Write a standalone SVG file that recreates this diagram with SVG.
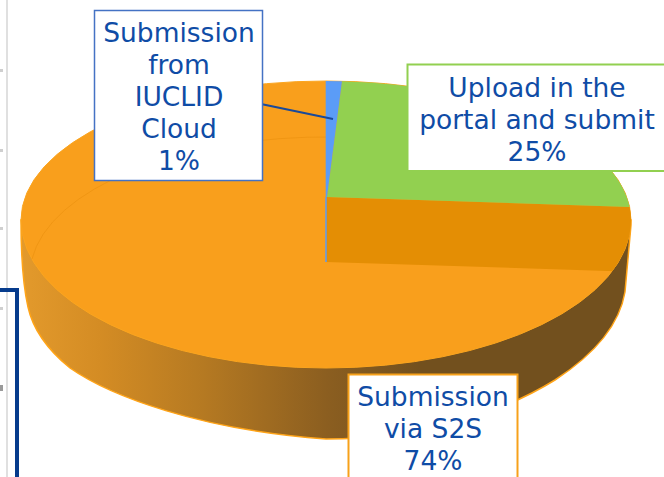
<svg xmlns="http://www.w3.org/2000/svg" width="664" height="477" viewBox="0 0 664 477">
  <defs>
    <linearGradient id="wallGrad" gradientUnits="userSpaceOnUse" x1="20" y1="0" x2="420" y2="0">
      <stop offset="0" stop-color="#E39A2C"/>
      <stop offset="0.2" stop-color="#D48C24"/>
      <stop offset="0.45" stop-color="#B67A22"/>
      <stop offset="0.77" stop-color="#8B5E20"/>
      <stop offset="1" stop-color="#72501E"/>
    </linearGradient>
    <clipPath id="topClip">
      <path d="M21,220 A305,139 0 0,1 631,220 A305,148 0 0,1 21,220 Z"/>
    </clipPath>
    <style>
      .lbl { font-family: "DejaVu Sans", Verdana, sans-serif; font-size: 26.5px; fill: #0F4CA6; text-anchor: middle; }
      .box { fill: #FFFFFF; }
    </style>
  </defs>
  <rect width="664" height="477" fill="#FFFFFF"/>

  <!-- background fragments -->
  <line x1="7" y1="0" x2="7" y2="477" stroke="#D6D6D6" stroke-width="1.5"/>
  <g fill="#CFCFCF">
    <rect x="0" y="69" width="3" height="3"/>
    <rect x="0" y="149" width="3" height="3"/>
    <rect x="0" y="227" width="3" height="3"/>
    <rect x="0" y="307" width="3" height="3"/>
  </g>
  <rect x="0" y="385" width="3" height="6" fill="#9A9A9A"/>
  <path d="M0,290 H17 V477" fill="none" stroke="#063B8C" stroke-width="4"/>

  <!-- S2S slice (74%) with wall -->
  <g id="slice-s2s">
    <path d="M21,220 C21,250 23,285 28,307 C33,330 48,350 70,368 C110,396 200,430 326,439 C420,439 500,414 555,380 C598,352 620,322 625,292 L631,225 L631,220 Z" fill="url(#wallGrad)" stroke="#FFA418" stroke-width="1.5"/>
    <path d="M21,220 A305,139 0 0,1 631,220 A305,148 0 0,1 21,220 Z" fill="#F99F1C" stroke="#FBA51F" stroke-width="1"/>
    <path d="M326,197 L630,207 L640,207 L640,272 L326,262 Z" fill="#E48E04" clip-path="url(#topClip)"/>
    <path d="M32,259 A296,138 0 0,1 335,137" fill="none" stroke="#EE9412" stroke-width="1" opacity="0.8"/>
  </g>

  <!-- Portal slice (25%) -->
  <g id="slice-portal">
    <path d="M342,81.2 A305,139 0 0,1 629.6,207 L327,197 Z" fill="#92D050"/>
  </g>

  <!-- IUCLID Cloud slice (1%) -->
  <g id="slice-iuclid">
    <path d="M325.7,81 A305,139 0 0,1 342,81.2 L327,197 L325.7,197 Z" fill="#5B9CF7"/>
    <line x1="326" y1="197" x2="326" y2="262" stroke="#5B9CF7" stroke-width="1.5"/>
  </g>

  <!-- connectors -->
  <g id="connectors">
    <line x1="261" y1="104" x2="333" y2="119" stroke="#1A4A9A" stroke-width="2"/>
  </g>

  <!-- labels -->
  <g id="label-iuclid">
    <rect class="box" x="94.5" y="10.5" width="168" height="170" stroke="#4472C4" stroke-width="1.5"/>
    <text class="lbl" x="179" y="42">Submission</text>
    <text class="lbl" x="179" y="74">from</text>
    <text class="lbl" x="179" y="106">IUCLID</text>
    <text class="lbl" x="179" y="138">Cloud</text>
    <text class="lbl" x="179" y="170">1%</text>
  </g>
  <g id="label-portal">
    <rect class="box" x="407.5" y="64.5" width="262" height="106.5" stroke="#92D050" stroke-width="2"/>
    <text class="lbl" x="537" y="97">Upload in the</text>
    <text class="lbl" x="537" y="129">portal and submit</text>
    <text class="lbl" x="537" y="161">25%</text>
  </g>
  <g id="label-s2s">
    <rect class="box" x="348.5" y="374.5" width="169" height="115" stroke="#F7A11A" stroke-width="2"/>
    <text class="lbl" x="433" y="406">Submission</text>
    <text class="lbl" x="433" y="438">via S2S</text>
    <text class="lbl" x="433" y="470">74%</text>
  </g>
</svg>
